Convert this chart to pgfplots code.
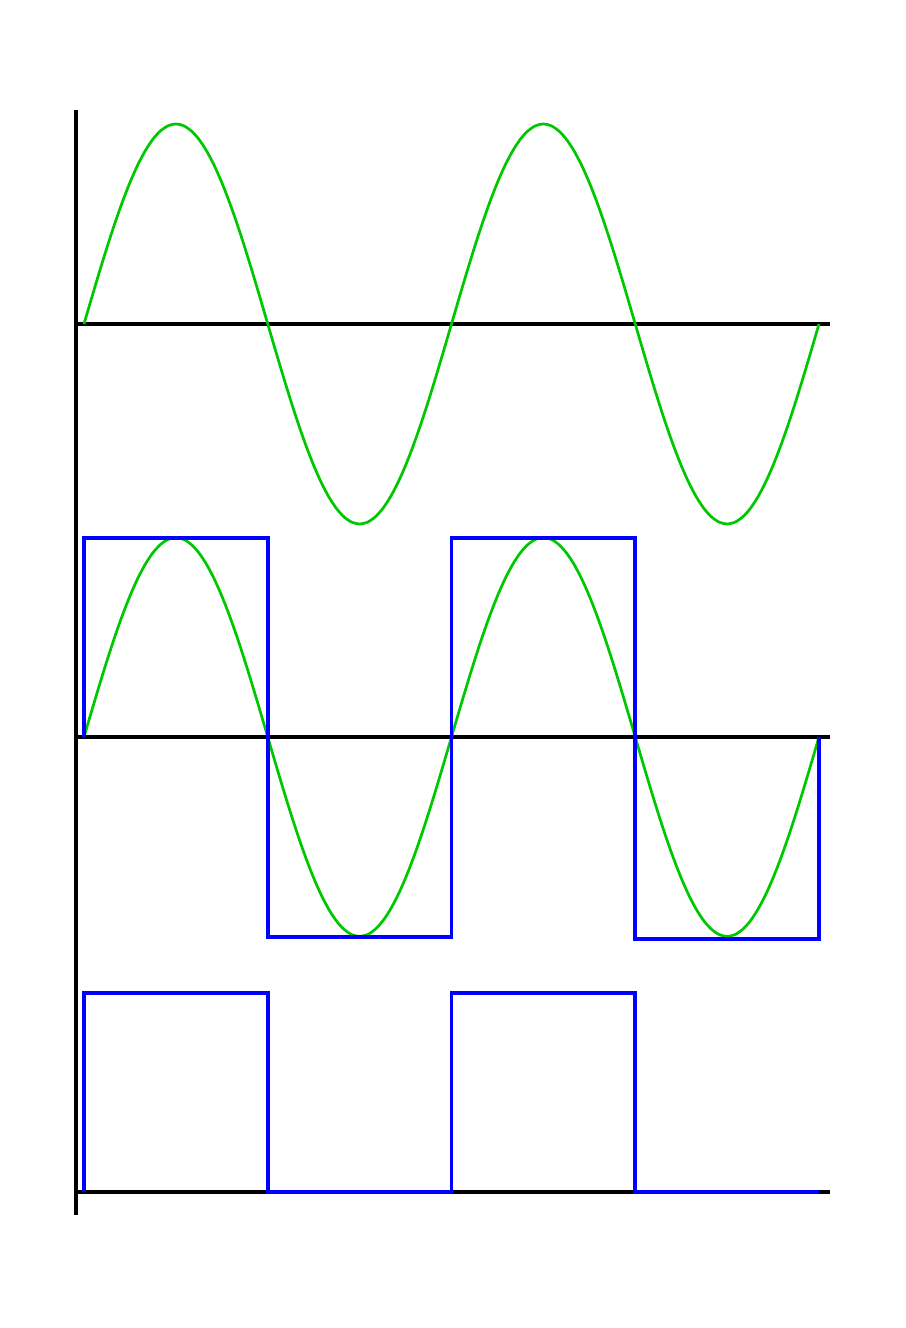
\documentclass[border=0pt]{standalone}
\usepackage{pgfplots}
\usepackage{pgfplotstable}
\pgfplotsset{compat=1.18}
\definecolor{sinegreen}{RGB}{0,200,0}
\definecolor{sqblue}{RGB}{0,0,255}
\pgfplotstableread{
t s
0 0
0.0833 0.1305
0.1667 0.2588
0.25 0.3827
0.3333 0.5
0.4167 0.6088
0.5 0.7071
0.5833 0.7934
0.6667 0.8660
0.75 0.9239
0.8333 0.9659
0.9167 0.9914
1 1
1.0833 0.9914
1.1667 0.9659
1.25 0.9239
1.3333 0.8660
1.4167 0.7934
1.5 0.7071
1.5833 0.6088
1.6667 0.5
1.75 0.3827
1.8333 0.2588
1.9167 0.1305
2 0
2.0833 -0.1305
2.1667 -0.2588
2.25 -0.3827
2.3333 -0.5
2.4167 -0.6088
2.5 -0.7071
2.5833 -0.7934
2.6667 -0.8660
2.75 -0.9239
2.8333 -0.9659
2.9167 -0.9914
3 -1
3.0833 -0.9914
3.1667 -0.9659
3.25 -0.9239
3.3333 -0.8660
3.4167 -0.7934
3.5 -0.7071
3.5833 -0.6088
3.6667 -0.5
3.75 -0.3827
3.8333 -0.2588
3.9167 -0.1305
4 0
4.0833 0.1305
4.1667 0.2588
4.25 0.3827
4.3333 0.5
4.4167 0.6088
4.5 0.7071
4.5833 0.7934
4.6667 0.8660
4.75 0.9239
4.8333 0.9659
4.9167 0.9914
5 1
5.0833 0.9914
5.1667 0.9659
5.25 0.9239
5.3333 0.8660
5.4167 0.7934
5.5 0.7071
5.5833 0.6088
5.6667 0.5
5.75 0.3827
5.8333 0.2588
5.9167 0.1305
6 0
6.0833 -0.1305
6.1667 -0.2588
6.25 -0.3827
6.3333 -0.5
6.4167 -0.6088
6.5 -0.7071
6.5833 -0.7934
6.6667 -0.8660
6.75 -0.9239
6.8333 -0.9659
6.9167 -0.9914
7 -1
7.0833 -0.9914
7.1667 -0.9659
7.25 -0.9239
7.3333 -0.8660
7.4167 -0.7934
7.5 -0.7071
7.5833 -0.6088
7.6667 -0.5
7.75 -0.3827
7.8333 -0.2588
7.9167 -0.1305
8 0
}\sinetable
\begin{document}
\begin{tikzpicture}
\begin{axis}[
  width=453pt, height=664pt, scale only axis,
  hide axis, clip=false,
  xmin=-0.9143, xmax=8.947,
  ymin=-0.68, ymax=5.96,
]
\path (rel axis cs:0,0) rectangle (rel axis cs:1,1);
% axis lines
\addplot[black, line width=2pt] coordinates {(-0.087,5.41) (-0.087,3.36)};
\addplot[black, line width=1.7pt] coordinates {(-0.087,3.36) (-0.087,-0.115)};
\addplot[black, line width=1.7pt] coordinates {(-0.087,4.34) (8.12,4.34)};
\addplot[black, line width=1.7pt] coordinates {(-0.087,2.275) (8.12,2.275)};
\addplot[black, line width=1.7pt] coordinates {(-0.087,0) (8.12,0)};
% top sine
\addplot[sinegreen, line width=1.35pt, smooth] table[x=t, y expr=\thisrow{s}*1.0+4.34] {\sinetable};
% middle sine
\addplot[sinegreen, line width=1.35pt, smooth] table[x=t, y expr=\thisrow{s}*0.997+2.275] {\sinetable};
% middle square
\addplot[sqblue, line width=1.8pt] coordinates {
(0,2.275) (0,3.27) (2,3.27) (2,1.275) (4,1.275) (4,3.27) (6,3.27) (6,1.265) (8,1.265) (8,2.275)};
% bottom square
\addplot[sqblue, line width=1.8pt] coordinates {
(0,0) (0,0.995) (2,0.995) (2,0) (4,0) (4,0.995) (6,0.995) (6,0) (8,0)};
\end{axis}
\end{tikzpicture}
\end{document}
